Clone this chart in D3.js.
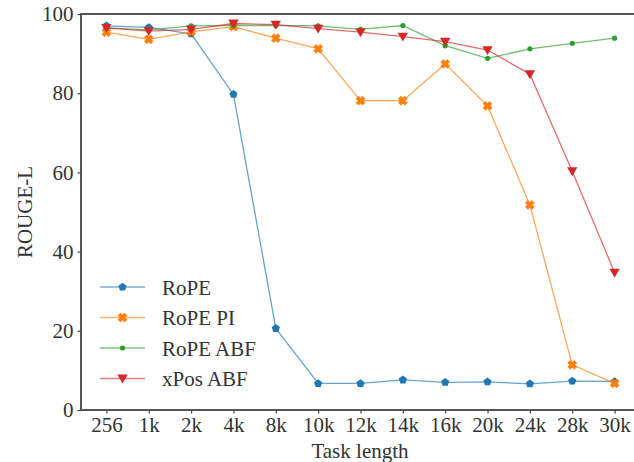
<!DOCTYPE html>
<html>
<head>
<meta charset="utf-8">
<script src="https://cdn.jsdelivr.net/npm/d3@7"></script>
<style>
  body { margin: 0; background: #fff; }
  svg { display: block; overflow: hidden; }
  text { font-family: "Liberation Serif", "Times New Roman", Times, serif; fill: #333; }
</style>
</head>
<body>
<div id="chart"></div>
<script>
// Data
const lengths = ['256', '1k', '2k', '4k', '8k', '10k', '12k', '14k', '16k', '20k', '24k', '28k', '30k']
const rope = [97.0, 96.6, 95.0, 79.7, 20.6, 6.7, 6.7, 7.6, 7.0, 7.1, 6.6, 7.3, 7.2]
const ropePI = [95.4, 93.6, 95.5, 96.8, 93.9, 91.2, 78.1, 78.1, 87.4, 76.8, 51.8, 11.4, 6.7]
const ropeABF = [96.5, 96.0, 97.0, 97.1, 97.1, 97.0, 96.1, 97.1, 92.0, 88.8, 91.2, 92.6, 93.9]
const xposABF = [96.5, 95.7, 96.1, 97.6, 97.3, 96.3, 95.4, 94.3, 93.0, 90.9, 84.8, 60.3, 34.7]
const yTicks = [0, 20, 40, 60, 80, 100]

const series = [
  { name: 'RoPE', values: rope, color: '#1f77b4', marker: 'pentagon' },
  { name: 'RoPE PI', values: ropePI, color: '#ff7f0e', marker: 'x' },
  { name: 'RoPE ABF', values: ropeABF, color: '#2ca02c', marker: 'dot' },
  { name: 'xPos ABF', values: xposABF, color: '#d62728', marker: 'tri' }
]

const width = 634
const height = 462
const plot = { left: 81, right: 640, top: 14, bottom: 410 }

const svg = d3.select('#chart')
  .append('svg')
  .attr('width', width)
  .attr('height', height)

// Scales
const step = (plot.right - plot.left) / 13.2
const x = d3.scalePoint()
  .domain(lengths)
  .range([plot.left + 0.6 * step, plot.right - 0.6 * step])

const y = d3.scaleLinear()
  .domain([0, 100])
  .range([plot.bottom, plot.top])

// Axes
const xAxis = svg.append('g')
  .attr('transform', `translate(0, ${plot.bottom})`)
  .call(d3.axisBottom(x).tickSize(3.5).tickPadding(4))
xAxis.select('.domain').remove()
xAxis.selectAll('.tick line').attr('stroke', '#444').attr('stroke-width', 1.2)
xAxis.selectAll('text').attr('font-size', 21)

const yAxis = svg.append('g')
  .attr('transform', `translate(${plot.left}, 0)`)
  .call(d3.axisLeft(y).tickValues(yTicks).tickSize(3.5).tickPadding(4))
yAxis.select('.domain').remove()
yAxis.selectAll('.tick line').attr('stroke', '#444').attr('stroke-width', 1.2)
yAxis.selectAll('text').attr('font-size', 21)

// Spines
svg.append('rect')
  .attr('x', plot.left)
  .attr('y', plot.top)
  .attr('width', plot.right - plot.left)
  .attr('height', plot.bottom - plot.top)
  .attr('fill', 'none')
  .attr('stroke', '#444')
  .attr('stroke-width', 1.8)

// Axis labels
svg.append('text')
  .attr('x', 360)
  .attr('y', 458)
  .attr('text-anchor', 'middle')
  .attr('font-size', 21)
  .text('Task length')

svg.append('text')
  .attr('transform', `translate(32, ${(plot.top + plot.bottom) / 2}) rotate(-90)`)
  .attr('text-anchor', 'middle')
  .attr('font-size', 21)
  .text('ROUGE-L')

// Markers
const drawMarker = (sel, kind, color) => {
  if (kind === 'pentagon') {
    const r = 4.3
    const pts = d3.range(5).map(i => {
      const a = -Math.PI / 2 + i * 2 * Math.PI / 5
      return [r * Math.cos(a), r * Math.sin(a)]
    })
    sel.append('path').attr('d', 'M' + pts.join('L') + 'Z').attr('fill', color)
  } else if (kind === 'x') {
    // filled "X" marker, chunky like matplotlib's
    const a = 4.4, b = 2.4
    const d = `M${-a},${-a + b}L${-a + b},${-a}L0,${-b}L${a - b},${-a}L${a},${-a + b}L${b},0` +
      `L${a},${a - b}L${a - b},${a}L0,${b}L${-a + b},${a}L${-a},${a - b}L${-b},0Z`
    sel.append('path').attr('d', d).attr('fill', color)
      .attr('stroke', color).attr('stroke-width', 0.8).attr('stroke-linejoin', 'round')
  } else if (kind === 'dot') {
    sel.append('circle').attr('r', 2.6).attr('fill', color)
  } else {
    const s = 5.2
    sel.append('path')
      .attr('d', `M${-s},${-s * 0.75}L${s},${-s * 0.75}L0,${s * 0.95}Z`)
      .attr('fill', color)
  }
}

const line = d3.line()
  .x((d, i) => x(lengths[i]))
  .y(d => y(d))

series.forEach(s => {
  const g = svg.append('g')
  g.append('path')
    .datum(s.values)
    .attr('d', line)
    .attr('fill', 'none')
    .attr('stroke', s.color)
    .attr('stroke-opacity', 0.68)
    .attr('stroke-width', 1.3)
  s.values.forEach((v, i) => {
    const m = g.append('g').attr('transform', `translate(${x(lengths[i])}, ${y(v)})`)
    drawMarker(m, s.marker, s.color)
  })
})

// Legend
const legend = svg.append('g')
const rowY = [287, 317.5, 348, 378.5]
series.forEach((s, i) => {
  const row = legend.append('g').attr('transform', `translate(100, ${rowY[i]})`)
  row.append('line')
    .attr('x1', 0).attr('x2', 45)
    .attr('stroke', s.color)
    .attr('stroke-opacity', 0.6)
    .attr('stroke-width', 1.3)
  const m = row.append('g').attr('transform', 'translate(22.5, 0)')
  drawMarker(m, s.marker, s.color)
  row.append('text')
    .attr('x', 62)
    .attr('y', 7.5)
    .attr('font-size', 21)
    .text(s.name)
})
</script>
</body>
</html>
